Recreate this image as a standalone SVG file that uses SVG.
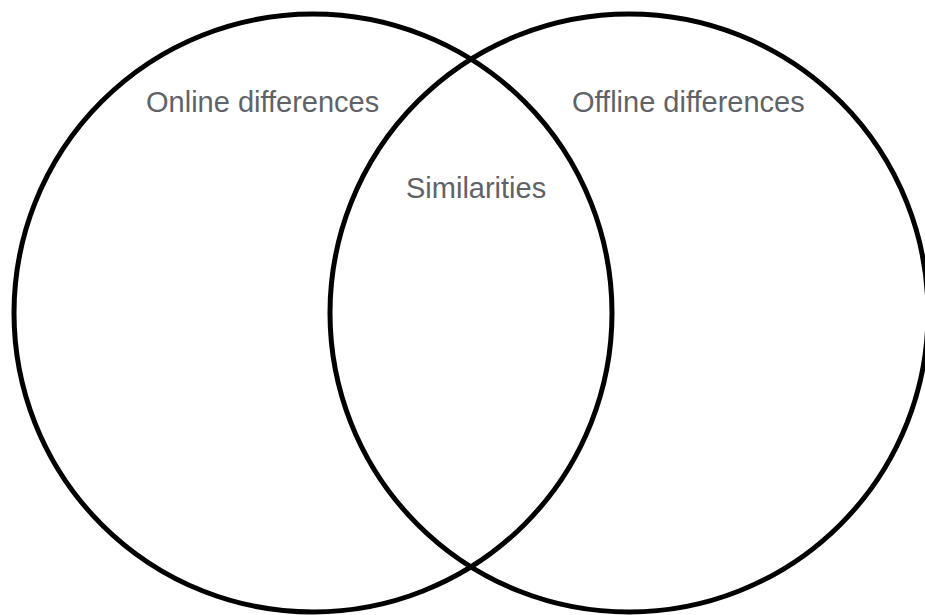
<svg xmlns="http://www.w3.org/2000/svg" width="925" height="615" viewBox="0 0 925 615">
<style>
.ring{fill:none;stroke:#000;stroke-width:5}
.lbl{font-family:"Liberation Sans",Arial,sans-serif;font-size:29px;fill:#5f6368}
</style>
<rect width="925" height="615" fill="#fff"/>
<g id="online">
<circle class="ring" cx="313" cy="313" r="299"/>
<text class="lbl" x="146" y="112">Online differences</text>
</g>
<g id="offline">
<circle class="ring" cx="629" cy="313" r="299"/>
<text class="lbl" x="572" y="112">Offline differences</text>
</g>
<g id="similarities">
<text class="lbl" x="406" y="198">Similarities</text>
</g>
<g id="connectors"></g>
</svg>
